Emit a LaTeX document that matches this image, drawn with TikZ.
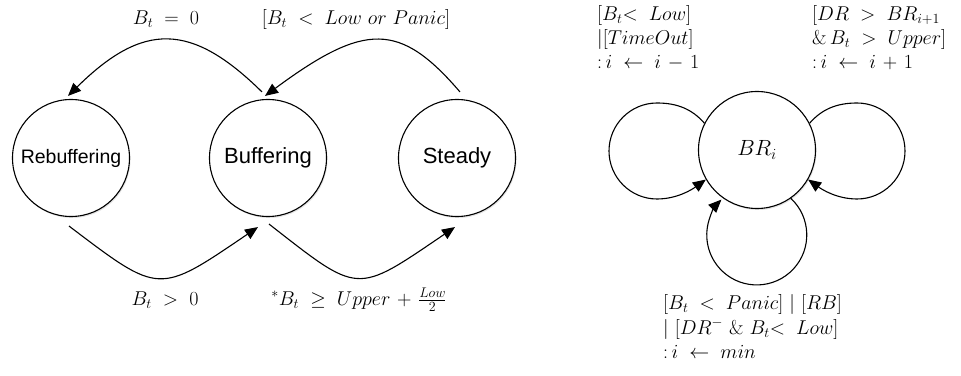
\RequirePackage{fix-cm}
\documentclass[tikz,border=0pt]{standalone}
\usepackage{fontspec}
\setsansfont{Liberation Sans}
\usetikzlibrary{arrows.meta,shadows}
\thickmuskip=10mu plus 3mu
\medmuskip=6mu plus 2mu
\begin{document}
\begin{tikzpicture}[x=1pt,y=1pt,
  state/.style={circle,draw,line width=1.1pt,fill=white,minimum size=117pt,inner sep=0pt,
    font=\sffamily\fontsize{22}{26}\selectfont,
    drop shadow={shadow xshift=1pt,shadow yshift=-1.5pt,opacity=0.22,fill=gray}},
  arr/.style={-{Triangle[length=13pt,width=11pt]},line width=1.1pt},
  lbl/.style={font=\fontsize{20}{23}\selectfont,inner sep=0pt},
  lline/.style={lbl,anchor=base west}]
\useasboundingbox (0,0) rectangle (961,375);
% left state machine
\node[state] (reb) at (71,217) {\fontsize{19.5}{22}\selectfont Rebuffering};
\node[state] (buf) at (268,217) {Buffering};
\node[state] (std) at (457,217) {Steady};
\draw[arr] ([shift={(-6,7)}]buf.north) .. controls (191,353) and (143,353) .. ([shift={(-3,3)}]reb.north);
\draw[arr] ([shift={(3,7)}]std.north) .. controls (400,353) and (365,353) .. ([shift={(-3,3)}]buf.north);
\draw[arr] ([shift={(-2,-9)}]reb.south) .. controls (160,80) and (158,80) .. ([shift={(-10,-10)}]buf.south);
\draw[arr] ([shift={(1,-7)}]buf.south) .. controls (360,80) and (355,80) .. ([shift={(-2,-10)}]std.south);
\node[lbl,anchor=base] (l1) at (166,350) {$B_t = 0$};
\node[lbl,anchor=base] (l2) at (356,350) {$[B_t < Low\ or\ Panic]$};
\node[lbl,anchor=base] (l3) at (165,70) {$B_t > 0$};
\node[lbl,anchor=base] (l4) at (359,70) {$^*B_t \geq Upper + \frac{Low}{2}$};
% right state machine
\node[state,font=\fontsize{22}{26}\selectfont] (br) at (757,225) {$BR_i$};
\draw[arr] (br.153) .. controls (692,266) and (677,272) .. (657,272)
  .. controls (630.5,272) and (609,250.5) .. (609,224)
  .. controls (609,197.5) and (630.5,176) .. (657,176)
  .. controls (677,176) and (692,185.5) .. (br.210);
\draw[arr] (br.27) .. controls (822,266) and (837,272) .. (857,272)
  .. controls (883.5,272) and (905,250.5) .. (905,224)
  .. controls (905,197.5) and (883.5,176) .. (857,176)
  .. controls (837,176) and (822,185.5) .. (br.330);
\draw[arr] (br.305) arc[start angle=47,end angle=-225,radius=50];
\node[lline] (a1) at (597,354) {$[B_t{<}\;Low]$};
\node[lline] (a2) at (597,330) {$|[TimeOut]$};
\node[lline] (a3) at (597,306) {${:}\,i \leftarrow i - 1$};
\node[lline] (b1) at (812,354) {$[DR > BR_{i+1}$};
\node[lline] (b2) at (812,330) {$\&\, B_t > Upper]$};
\node[lline] (b3) at (812,306) {${:}\,i \leftarrow i + 1$};
\node[lline] (c1) at (663,66) {$[B_t < Panic]\ |\ [RB]$};
\node[lline] (c2) at (663,41) {$|\ [DR^{-}\ \&\ B_t{<}\;Low]$};
\node[lline] (c3) at (663,17) {${:}\,i \leftarrow min$};
\end{tikzpicture}
\end{document}
